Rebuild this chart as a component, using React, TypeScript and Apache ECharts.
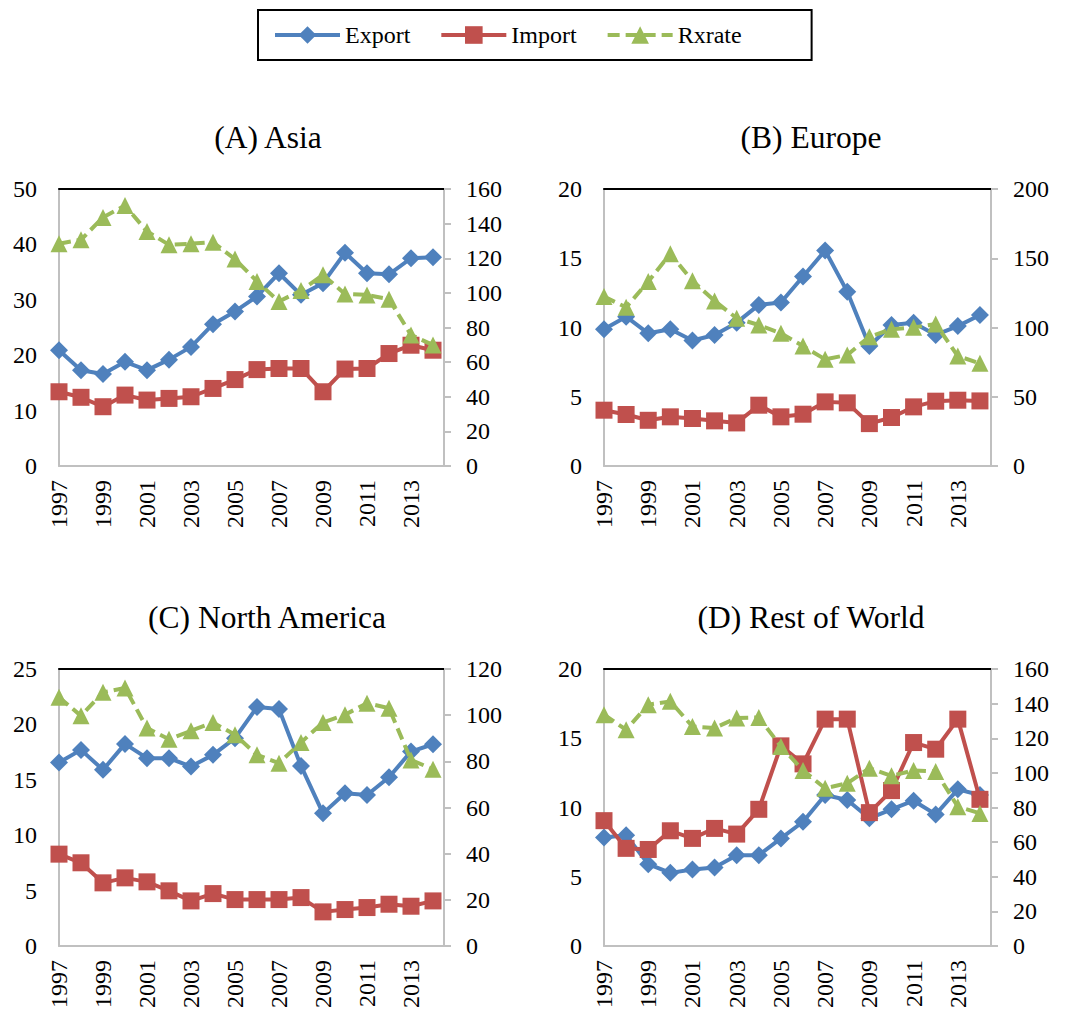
import React, { useEffect, useRef } from "react";
import * as echarts from "echarts";

const years = [1997, 1998, 1999, 2000, 2001, 2002, 2003, 2004, 2005, 2006, 2007, 2008, 2009, 2010, 2011, 2012, 2013, 2014];
const xTickYears = [1997, 1999, 2001, 2003, 2005, 2007, 2009, 2011, 2013];
const seriesNames = ["Export", "Import", "Rxrate"];
const panelTitles = ["(A) Asia", "(B) Europe", "(C) North America", "(D) Rest of World"];

const asiaExport = [20.9, 17.3, 16.6, 18.8, 17.3, 19.2, 21.5, 25.6, 27.9, 30.6, 34.8, 30.9, 33.0, 38.5, 34.8, 34.6, 37.5, 37.7];
const asiaImport = [13.4, 12.4, 10.7, 12.8, 11.9, 12.2, 12.5, 14.0, 15.6, 17.4, 17.6, 17.6, 13.4, 17.5, 17.6, 20.3, 21.8, 20.9];
const asiaRxrate = [128.4, 130.7, 143.6, 150.4, 135.5, 127.8, 128.4, 129.2, 119.5, 106.6, 95.0, 101.4, 110.4, 99.4, 98.8, 96.3, 75.7, 69.9];

const europeExport = [9.87, 10.78, 9.58, 9.87, 9.06, 9.46, 10.35, 11.63, 11.8, 13.68, 15.56, 12.59, 8.66, 10.18, 10.35, 9.46, 10.1, 10.9];
const europeImport = [4.03, 3.72, 3.3, 3.55, 3.43, 3.26, 3.11, 4.39, 3.55, 3.74, 4.63, 4.56, 3.06, 3.5, 4.27, 4.68, 4.75, 4.7];
const europeRxrate = [122.3, 114.6, 133.2, 153.2, 133.7, 119.2, 106.7, 101.8, 95.8, 86.6, 77.0, 80.2, 93.4, 98.7, 100.1, 102.5, 79.4, 74.1];

const naExport = [16.56, 17.7, 15.9, 18.24, 16.95, 16.95, 16.2, 17.25, 18.76, 21.56, 21.38, 16.25, 11.97, 13.78, 13.63, 15.23, 17.55, 18.21];
const naImport = [8.29, 7.51, 5.7, 6.15, 5.79, 4.98, 4.07, 4.73, 4.19, 4.19, 4.19, 4.37, 3.08, 3.29, 3.47, 3.77, 3.59, 4.07];
const naRxrate = [107.8, 99.7, 109.9, 111.8, 94.4, 89.6, 93.2, 96.8, 91.5, 82.8, 79.2, 88.2, 96.8, 100.2, 105.2, 103.0, 80.6, 76.6];

const rowExport = [7.84, 8.0, 5.91, 5.28, 5.52, 5.67, 6.56, 6.56, 7.77, 8.97, 10.9, 10.54, 9.22, 9.87, 10.49, 9.5, 11.31, 10.9];
const rowImport = [9.05, 7.05, 6.97, 8.32, 7.77, 8.49, 8.08, 9.87, 14.45, 13.15, 16.38, 16.38, 9.63, 11.22, 14.69, 14.21, 16.38, 10.59];
const rowRxrate = [133.6, 124.9, 139.4, 141.3, 126.8, 125.9, 131.7, 132.0, 115.3, 101.4, 91.1, 94.0, 102.7, 98.3, 101.4, 100.8, 80.5, 76.6];

const leftMax = [50, 20, 25, 20];
const leftInterval = [10, 5, 5, 5];
const rightMax = [160, 200, 120, 160];
const rightInterval = [20, 50, 20, 20];

const panelData = [
  [asiaExport, asiaImport, asiaRxrate],
  [europeExport, europeImport, europeRxrate],
  [naExport, naImport, naRxrate],
  [rowExport, rowImport, rowRxrate],
];

// layout (not data)
const gridBoxes = [
  { left: 59, top: 189, width: 385, height: 277 },
  { left: 604, top: 189, width: 387, height: 277 },
  { left: 59, top: 669, width: 385, height: 277 },
  { left: 604, top: 669, width: 387, height: 277 },
];
const titlePos = [
  { x: 268, y: 121 },
  { x: 811, y: 121 },
  { x: 267, y: 601 },
  { x: 811, y: 601 },
];

const FONT = "Liberation Serif";
const COLORS = ["#4F81BD", "#C0504D", "#9BBB59"];
const GRAY = "#C0C0C0";

function buildOption() {
  const grid: any[] = [];
  const xAxis: any[] = [];
  const yAxis: any[] = [];
  const series: any[] = [];
  const title: any[] = [];
  const labelStyle = { fontFamily: FONT, fontSize: 24, color: "#000", fontWeight: "normal" };

  panelData.forEach((vals, p) => {
    grid.push({ ...gridBoxes[p], containLabel: false });
    title.push({
      text: panelTitles[p],
      left: titlePos[p].x,
      top: titlePos[p].y,
      textAlign: "center",
      padding: 0,
      textStyle: { fontFamily: FONT, fontSize: 31.5, fontWeight: "normal", color: "#000" },
    });
    xAxis.push({
      type: "value",
      gridIndex: p,
      min: 1997,
      max: 2014.5,
      position: "bottom",
      axisLine: { show: true, onZero: false, lineStyle: { color: GRAY, width: 2 } },
      axisTick: { show: false },
      splitLine: { show: false },
      axisLabel: {
        customValues: xTickYears,
        rotate: 90,
        margin: 14,
        ...labelStyle,
        formatter: (v: number) => String(v),
      },
    });
    xAxis.push({
      type: "value",
      gridIndex: p,
      min: 1997,
      max: 2014.5,
      position: "top",
      axisLine: { show: true, onZero: false, lineStyle: { color: "#000", width: 2 } },
      axisTick: { show: false },
      splitLine: { show: false },
      axisLabel: { show: false },
    });
    yAxis.push({
      type: "value",
      gridIndex: p,
      min: 0,
      max: leftMax[p],
      interval: leftInterval[p],
      position: "left",
      axisLine: { show: true, onZero: false, lineStyle: { color: GRAY, width: 2 } },
      axisTick: { show: false },
      splitLine: { show: false },
      axisLabel: { margin: 22, ...labelStyle },
    });
    yAxis.push({
      type: "value",
      gridIndex: p,
      min: 0,
      max: rightMax[p],
      interval: rightInterval[p],
      position: "right",
      axisLine: { show: true, onZero: false, lineStyle: { color: GRAY, width: 2 } },
      axisTick: { show: true, length: 7, lineStyle: { color: GRAY, width: 2 } },
      splitLine: { show: false },
      axisLabel: { margin: 22, ...labelStyle },
    });

    const symbols = ["diamond", "rect", "triangle"];
    const sizes = [18, 17, 17];
    vals.forEach((arr, s) => {
      series.push({
        name: seriesNames[s],
        type: "line",
        xAxisIndex: 2 * p,
        yAxisIndex: s === 2 ? 2 * p + 1 : 2 * p,
        data: years.map((y, i) => [y, arr[i]]),
        symbol: symbols[s],
        symbolSize: sizes[s],
        showSymbol: true,
        color: COLORS[s],
        itemStyle: { color: COLORS[s] },
        lineStyle: { color: COLORS[s], width: 4, type: s === 2 ? [12, 6] : "solid" },
        z: 2 + s,
      });
    });
  });

  return {
    animation: false,
    backgroundColor: "#fff",
    textStyle: { fontFamily: FONT, color: "#000" },
    title,
    legend: {
      data: seriesNames,
      left: 258,
      top: 10,
      orient: "horizontal",
      borderColor: "#000",
      borderWidth: 2,
      padding: [13, 70, 13, 15],
      itemWidth: 65,
      itemHeight: 22,
      itemGap: 29,
      lineStyle: { width: 4 },
      textStyle: { ...labelStyle },
    },
    grid,
    xAxis,
    yAxis,
    series,
  };
}

export default function App() {
  const ref = useRef<HTMLDivElement>(null);
  useEffect(() => {
    if (!ref.current) return;
    const chart = echarts.init(ref.current, undefined, { renderer: "svg" });
    chart.setOption(buildOption() as any);
    return () => chart.dispose();
  }, []);
  return (
    <div
      ref={ref}
      style={{ position: "absolute", left: 0, top: 0, width: 1071, height: 1016, background: "#fff" }}
    />
  );
}
